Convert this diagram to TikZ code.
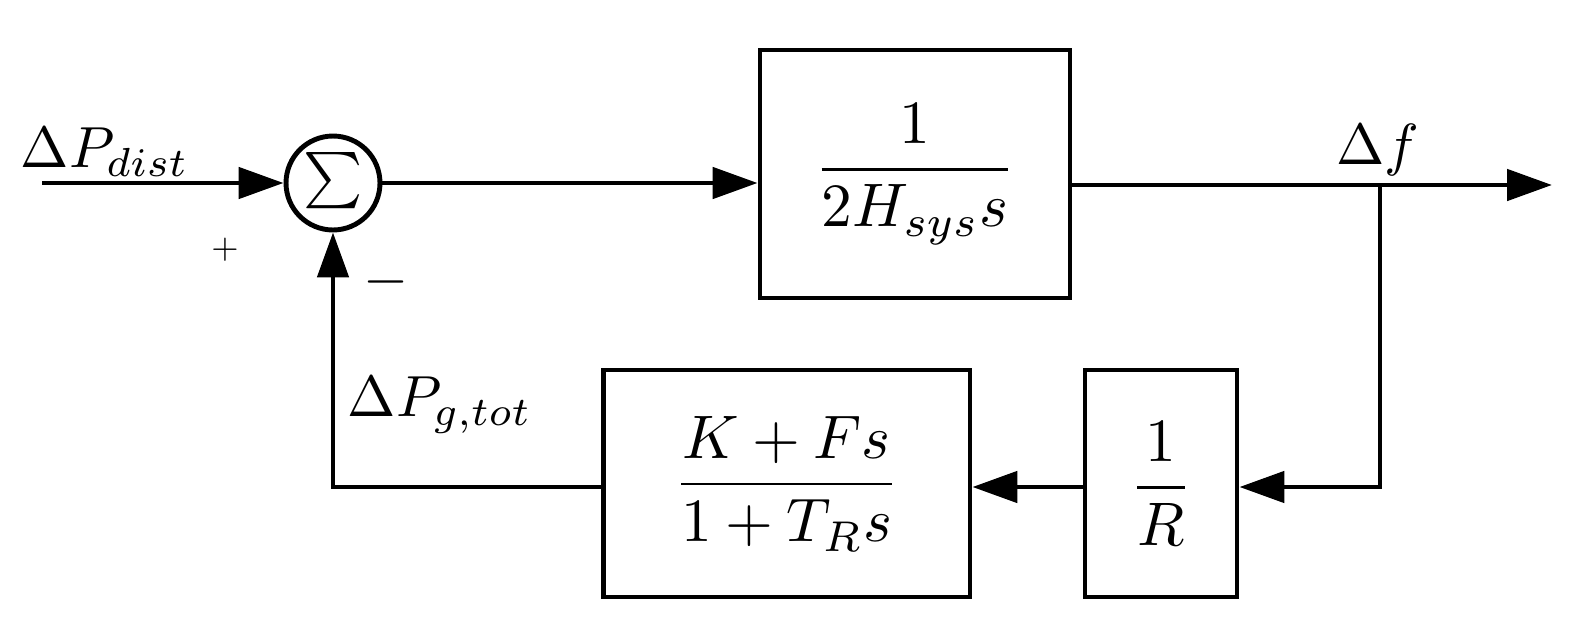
\documentclass[tikz,border=0pt]{standalone}
\usepackage{amsmath}
\usetikzlibrary{arrows.meta}
\newcommand{\BT}[2][3.5]{\scalebox{#1}{$#2$}}
\begin{document}
\begin{tikzpicture}[x=0.02cm,y=-0.02cm,line width=2.8pt,
  blk/.style={draw,line width=2.8pt,inner sep=0pt},
  arr/.style={-{Triangle[length=0.9cm,width=0.62cm]}}]
\useasboundingbox (0,0) rectangle (1593,629);
\node[draw,circle,minimum size=1.88cm,inner sep=0pt,line width=2.8pt] (sum) at (333,183) {};
\node at (333,181) {\BT[3.2]{\textstyle\sum}};
\node[blk,minimum width=6.2cm,minimum height=4.96cm] (b1) at (915,174) {};
\node at (915,174) {\BT{\dfrac{1}{2H_{sys}s}}};
\node[blk,minimum width=7.34cm,minimum height=4.54cm] (b2) at (786.5,483.5) {};
\node at (786.5,483.5) {\BT{\dfrac{K+Fs}{1+T_Rs}}};
\node[blk,minimum width=3.04cm,minimum height=4.54cm] (b3) at (1161,483.5) {};
\node at (1161,483.5) {\BT{\dfrac{1}{R}}};
\coordinate (in) at (42,183);
\coordinate (out) at (1552,185);
\coordinate (br) at (1380,185);
\draw[arr] (in) -- (sum.west);
\draw[arr] (sum.east) -- (b1.west |- sum.east);
\draw[arr] (b1.east |- out) -- (out);
\draw[arr] (br) |- (b3.east |- 0,487);
\draw[arr] (b3.west |- 0,487) -- (b2.east |- 0,487);
\draw[arr] (b2.west |- 0,487) -| (sum.south);
\node at (105,152) {\BT[3.3]{\Delta P_{dist}}};
\node at (225,250) {\BT[2]{+}};
\node at (386,282) {\BT[3.3]{-}};
\node at (1378,150) {\BT[3.3]{\Delta f}};
\node at (440,405) {\BT[3.3]{\Delta P_{g,tot}}};
\end{tikzpicture}
\end{document}
